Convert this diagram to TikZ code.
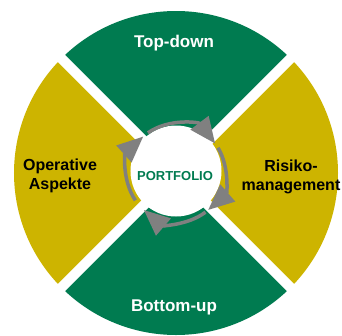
\documentclass[tikz,border=0pt]{standalone}
\usepackage{fontspec}
\setmainfont{Liberation Sans}
\usetikzlibrary{arrows.meta}
\definecolor{pfgreen}{RGB}{0,123,80}
\definecolor{pfyellow}{RGB}{205,180,0}
\definecolor{pfgray}{RGB}{128,128,128}
\tikzset{
  sectorlabel/.style={font=\bfseries\fontsize{16}{19}\selectfont, align=center, text=black},
  whitelabel/.style={font=\bfseries\fontsize{17}{20}\selectfont, align=center, text=white},
  cyclearrow/.style={pfgray, line width=3.5pt, -{Triangle[length=26pt,width=22pt]}},
}
\begin{document}
\begin{tikzpicture}[x=1pt,y=1pt]
  \useasboundingbox (-176,-162) rectangle (166,173);
  % the four sectors
  \foreach \a/\c in {45/pfgreen,135/pfyellow,225/pfgreen,315/pfyellow}
    \fill[\c] (0,0) -- (\a:162) arc[start angle=\a, delta angle=90, radius=162] -- cycle;
  % white gaps along the diagonals
  \draw[white, line width=10pt] (45:175) -- (225:175) (135:175) -- (315:175);
  % centre disk
  \fill[white] (0,2) circle[radius=45.5];
  % the cycle, clockwise
  \foreach \s/\d in {125/-88,31/-80,-53/-78,214/-82}
    \draw[cyclearrow] (\s:49) arc[start angle=\s, delta angle=\d, radius=49];

  \node[whitelabel] (topdown) at (-2,130) {Top-down};
  \node[whitelabel] (bottomup) at (-2,-134) {Bottom-up};
  \node[sectorlabel] (operative) at (-116,-3) {Operative\\Aspekte};
  \node[sectorlabel] (risiko) at (115,-4) {Risiko-\\management};
  \node[font=\bfseries\fontsize{13}{15}\selectfont, text=pfgreen] (portfolio) at (-1,-3) {PORTFOLIO};
\end{tikzpicture}
\end{document}
